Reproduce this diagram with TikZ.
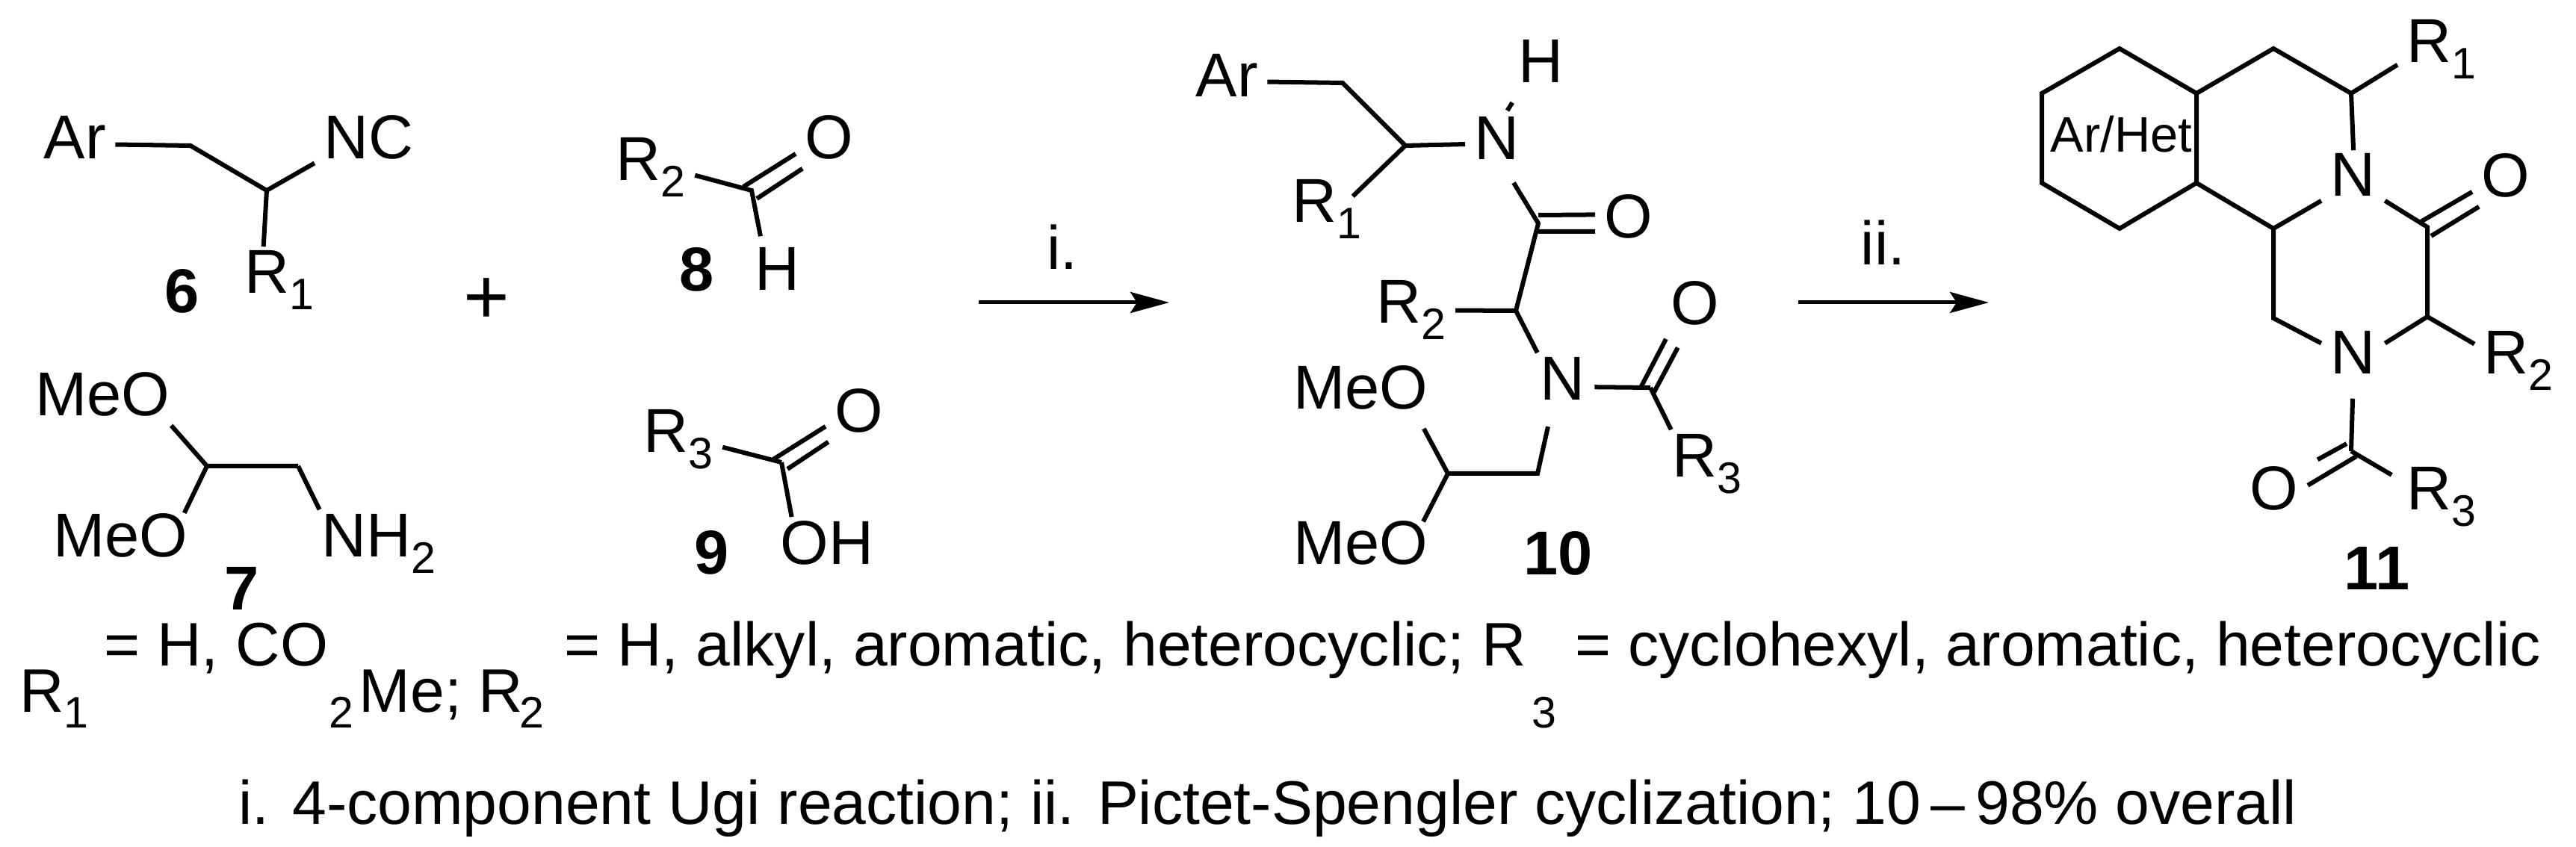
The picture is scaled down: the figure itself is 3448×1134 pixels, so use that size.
\documentclass[tikz,border=0pt]{standalone}
\usepackage{fontspec}
\setmainfont{Liberation Sans}
\usetikzlibrary{arrows.meta}
\newcommand{\subnum}[1]{\raisebox{-6pt}{\fontsize{16.8pt}{18pt}\selectfont #1}}

\begin{document}
\begin{tikzpicture}[x=.01cm, y=-.01cm,
    atom/.style={anchor=base west, inner sep=.12cm, xshift=-.17cm, text height=.6cm, text depth=0pt,
        font=\fontsize{23.6pt}{26pt}\selectfont},
    plain/.style={anchor=base west, inner sep=0pt, font=\fontsize{23.4pt}{26pt}\selectfont},
    small/.style={anchor=base west, inner sep=0pt, font=\fontsize{16.8pt}{18pt}\selectfont},
    number/.style={anchor=base west, inner sep=0pt, font=\fontsize{23.6pt}{26pt}\selectfont\bfseries},
    bond/.style={line width=.06cm, line join=miter},
    reaction/.style={line width=.05cm, -{Stealth[length=.52cm, width=.28cm, inset=.09cm]}}]
    \useasboundingbox (0,0) rectangle (3448,1134);

    % 6
    \node[atom] (ar6) at (63,213) {Ar};
    \node[atom] (nc6) at (438,213) {NC};
    \node[atom] (r16) at (332,393) {R\subnum{1}};
    \node[number] (num6) at (220,419) {6};
    \coordinate (c6a) at (255,195);
    \coordinate (c6b) at (357,255);
    \draw[bond] (ar6.-11) -- (c6a) -- (c6b) -- (nc6.206);
    \draw[bond, shorten >=-.1cm] (c6b) -- (r16.116);

    \node[anchor=center, inner sep=0pt, font=\fontsize{30pt}{32pt}\selectfont] (plus) at (651,403) {+};

    % 8
    \node[atom] (r28) at (829,242) {R\subnum{2}};
    \node[atom] (o8) at (1082,213) {O};
    \node[atom] (h8) at (1015,389) {H};
    \node[number] (num8) at (909,390) {8};
    \coordinate (c8) at (1006,255);
    \coordinate (c8up) at (995,250);
    \coordinate (c8lo) at (1013,266);
    \draw[bond] (r28.-21) -- (c8) -- (h8.118);
    \draw[bond] (c8up) -- (o8.207);
    \draw[bond] (c8lo) -- (o8.230);

    % 7
    \node[atom] (meo7a) at (52,557) {MeO};
    \node[atom] (meo7b) at (76,746) {MeO};
    \node[atom] (nh7) at (435,746) {NH\subnum{2}};
    \node[number] (num7) at (300,817) {7};
    \coordinate (c7a) at (277,624);
    \coordinate (c7b) at (399,624);
    \draw[bond] (meo7a.-25) -- (c7a) -- (c7b);
    \draw[bond, shorten >=-.15cm] (c7a) -- (meo7b.25);
    \draw[bond, shorten >=-.1cm] (c7b) -- (nh7.153);

    % 9
    \node[atom] (r39) at (866,606) {R\subnum{3}};
    \node[atom] (o9) at (1122,579) {O};
    \node[atom] (oh9) at (1049,755) {OH};
    \node[number] (num9) at (929,768) {9};
    \coordinate (c9) at (1046,619);
    \coordinate (c9up) at (1035,615);
    \coordinate (c9lo) at (1054,628);
    \draw[bond] (r39.-21) -- (c9);
    \draw[bond, shorten >=-.1cm] (c9) -- (oh9.139);
    \draw[bond] (c9up) -- (o9.206);
    \draw[bond] (c9lo) -- (o9.226);

    % first arrow
    \coordinate (arr1a) at (1310,405);
    \coordinate (arr1b) at (1565,405);
    \draw[reaction] (arr1a) -- (arr1b);
    \node[plain] (lab1) at (1401,361) {i.};

    % 10
    \node[atom] (ar10) at (1605,130) {Ar};
    \node[atom] (h10) at (2037,111) {H};
    \node[atom] (n10a) at (1978,214) {N};
    \node[atom] (r110) at (1734,298) {R\subnum{1}};
    \node[atom] (o10a) at (2152,319) {O};
    \node[atom] (r210) at (1847,433) {R\subnum{2}};
    \node[atom] (n10b) at (2066,536) {N};
    \node[atom] (o10b) at (2241,435) {O};
    \node[atom] (r310) at (2243,639) {R\subnum{3}};
    \node[atom] (meo10a) at (1736,548) {MeO};
    \node[atom] (meo10b) at (1736,755) {MeO};
    \node[number] (num10) at (2039,770) {10};
    \coordinate (c10a) at (1797,111);
    \coordinate (c10b) at (1881,195);
    \coordinate (c10c) at (2059,299);
    \coordinate (c10cu) at (2059,288);
    \coordinate (c10cl) at (2059,310);
    \coordinate (c10d) at (2029,416);
    \coordinate (c10e) at (2209,519);
    \coordinate (c10eu) at (2196,519);
    \coordinate (c10el) at (2214,525);
    \coordinate (c10f) at (2058,634);
    \coordinate (c10g) at (1938,634);
    \draw[bond] (ar10.-10) -- (c10a) -- (c10b) -- (n10a.192);
    \draw[bond, shorten >=-.34cm] (c10b) -- (r110.26);
    \draw[bond, shorten <=-.08cm, shorten >=.16cm] (n10a.67) -- (h10.-125);
    \draw[bond, shorten <=.21cm] (n10a.-75) -- (c10c) -- (c10d) -- (r210.-12);
    \draw[bond] (c10cu) -- (o10a.178);
    \draw[bond] (c10cl) -- (o10a.205);
    \draw[bond, shorten >=-.1cm] (c10d) -- (n10b.132);
    \draw[bond] (n10b.-16) -- (c10e);
    \draw[bond, shorten >=.07cm] (c10eu) -- (o10b.230);
    \draw[bond, shorten >=.2cm] (c10el) -- (o10b.252);
    \draw[bond, shorten >=-.1cm] (c10e) -- (r310.141);
    \draw[bond, shorten <=.23cm, shorten >=.15cm] (n10b.-109) -- (c10f) -- (c10g) -- (meo10a.-29);
    \draw[bond, shorten >=-.18cm] (c10g) -- (meo10b.25);

    % second arrow
    \coordinate (arr2a) at (2407,405);
    \coordinate (arr2b) at (2662,405);
    \draw[reaction] (arr2a) -- (arr2b);
    \node[plain] (lab2) at (2490,355) {ii.};

    % 11
    \node[anchor=base west, inner sep=0pt, font=\fontsize{19pt}{22pt}\selectfont] (het) at (2744,204) {Ar/Het};
    \node[atom] (r111) at (3226,84) {R\subnum{1}};
    \node[atom] (n11a) at (3124,263) {N};
    \node[atom] (o11a) at (3326,264) {O};
    \node[atom] (n11b) at (3124,501) {N};
    \node[atom] (r211) at (3329,501) {R\subnum{2}};
    \node[atom] (o11b) at (3016,683) {O};
    \node[atom] (r311) at (3226,683) {R\subnum{3}};
    \node[number] (num11) at (3137,790) {11};
    \coordinate (h1) at (2733,125);
    \coordinate (h2) at (2837,65);
    \coordinate (h3) at (2940,125);
    \coordinate (h4) at (2940,245);
    \coordinate (h5) at (2837,306);
    \coordinate (h6) at (2733,245);
    \coordinate (p1) at (3043,65);
    \coordinate (p2) at (3147,125);
    \coordinate (p3) at (3043,306);
    \coordinate (q1) at (3249,304);
    \coordinate (q1u) at (3240,297);
    \coordinate (q1l) at (3254,316);
    \coordinate (q2) at (3249,424);
    \coordinate (q3) at (3043,426);
    \coordinate (s1) at (3147,604);
    \coordinate (s1u) at (3141,594);
    \coordinate (s1l) at (3154,611);
    \draw[bond] (h1) -- (h2) -- (h3) -- (h4) -- (h5) -- (h6) -- cycle;
    \draw[bond] (h3) -- (p1) -- (p2) -- (r111.209);
    \draw[bond, shorten >=-.11cm] (p2) -- (n11a.north);
    \draw[bond] (h4) -- (p3) -- (n11a.220);
    \draw[bond] (n11a.-40) -- (q1) -- (q2) -- (n11b.15);
    \draw[bond] (q2) -- (r211.170);
    \draw[bond] (p3) -- (q3) -- (n11b.165);
    \draw[bond] (q1u) -- (o11a.207);
    \draw[bond] (q1l) -- (o11a.230);
    \draw[bond, shorten <=.2cm] (n11b.south) -- (s1);
    \draw[bond, shorten >=.09cm] (s1) -- (r311.168);
    \draw[bond, shorten >=.15cm] (s1u) -- (o11b.34);
    \draw[bond] (s1l) -- (o11b.4);

    % substituents
    \node[plain] (rr1) at (26,953) {R};
    \node[small] (rr1n) at (85,974) {1};
    \node[plain] (t1) at (139,892) {= H, CO};
    \node[small] (t2) at (440,974) {2};
    \node[plain] (t3) at (480,953) {Me; R};
    \node[small] (t4) at (695,974) {2};
    \node[plain] (t5) at (755,892) {= H, alkyl, aromatic, heterocyclic; R};
    \node[small] (t6) at (2050,974) {3};
    \node[plain] (t7) at (2108,892) {= cyclohexyl, aromatic, heterocyclic};
    \node[plain] (cond) at (319,1103) {i. 4-component Ugi reaction; ii. Pictet-Spengler cyclization; 10\,--\,98\% overall};
\end{tikzpicture}
\end{document}
